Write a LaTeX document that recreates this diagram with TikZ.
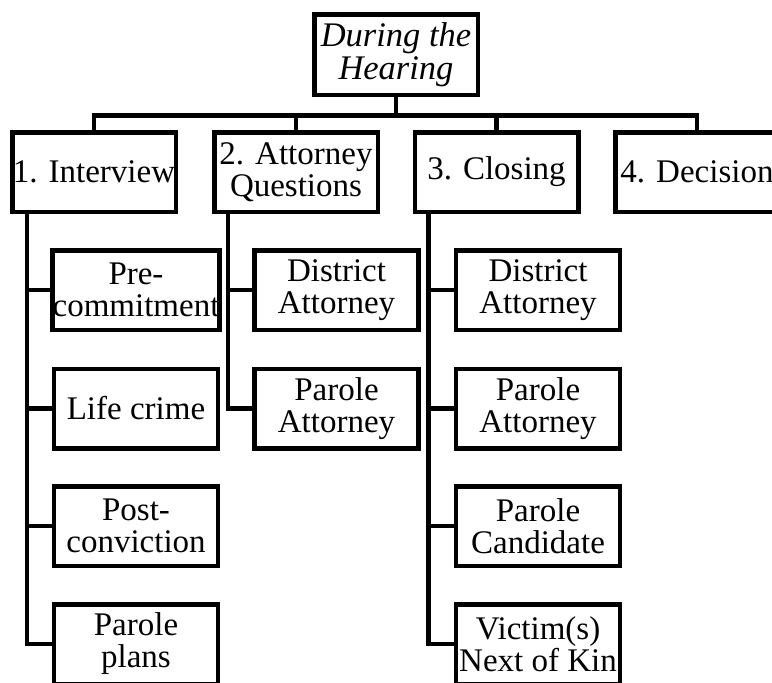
\documentclass[tikz,border=0pt]{standalone}
\usepackage{fontspec}
\setmainfont{Liberation Serif}

\begin{document}
\begin{tikzpicture}[x=1pt, y=-1pt, line width=4.5pt,
        stage/.style={draw=black, inner sep=0pt, align=center,
            minimum width=163.5pt, minimum height=79.5pt,
            font=\fontsize{33}{32}\selectfont},
        part/.style={stage, minimum width=164pt}]
            \clip (0,0) rectangle (772,683);

            \node[stage, minimum height=80.5pt, font=\fontsize{34.5}{33}\selectfont\itshape] (hearing) at (396,54.5) {During the\\Hearing};

            \node[stage] (interview) at (94,172) {1. Interview};
            \node[stage] (questions) at (296,172) {2. Attorney\\Questions};
            \node[stage] (closing) at (496.5,172) {3. Closing};
            \node[stage] (decision) at (697,172) {4. Decision};

            \node[part] (precommit) at (136,290) {Pre-\\commitment};
            \node[part] (lifecrime) at (136,408.5) {Life crime};
            \node[part] (postconv) at (136,526) {Post-\\conviction};
            \node[part] (plans) at (136,644) {Parole\\plans};

            \node[part] (qdistrict) at (336.5,290) {District\\Attorney};
            \node[part] (qparole) at (336.5,408.5) {Parole\\Attorney};

            \node[part] (cdistrict) at (538,290) {District\\Attorney};
            \node[part] (cparole) at (538,408.5) {Parole\\Attorney};
            \node[part] (candidate) at (538,526) {Parole\\Candidate};
            \node[part] (victims) at (538,644) {Victim(s)\\Next of Kin};

            % top box down to the four stages
            \draw (hearing.south) -- ++(0,18.5) -| (interview.north);
            \draw (hearing.south) -- ++(0,18.5) -| (questions.north);
            \draw (hearing.south) -- ++(0,18.5) -| (closing.north);
            \draw (hearing.south) -- ++(0,18.5) -| (decision.north);

            % stage 1
            \draw ([xshift=17pt]interview.south west) |- (precommit.west);
            \draw ([xshift=17pt]interview.south west) |- (lifecrime.west);
            \draw ([xshift=17pt]interview.south west) |- (postconv.west);
            \draw ([xshift=17pt]interview.south west) |- (plans.west);

            % stage 2
            \draw ([xshift=16pt]questions.south west) |- (qdistrict.west);
            \draw ([xshift=16pt]questions.south west) |- (qparole.west);

            % stage 3
            \draw ([xshift=16pt]closing.south west) |- (cdistrict.west);
            \draw ([xshift=16pt]closing.south west) |- (cparole.west);
            \draw ([xshift=16pt]closing.south west) |- (candidate.west);
            \draw ([xshift=16pt]closing.south west) |- (victims.west);
        \end{tikzpicture}
\end{document}
